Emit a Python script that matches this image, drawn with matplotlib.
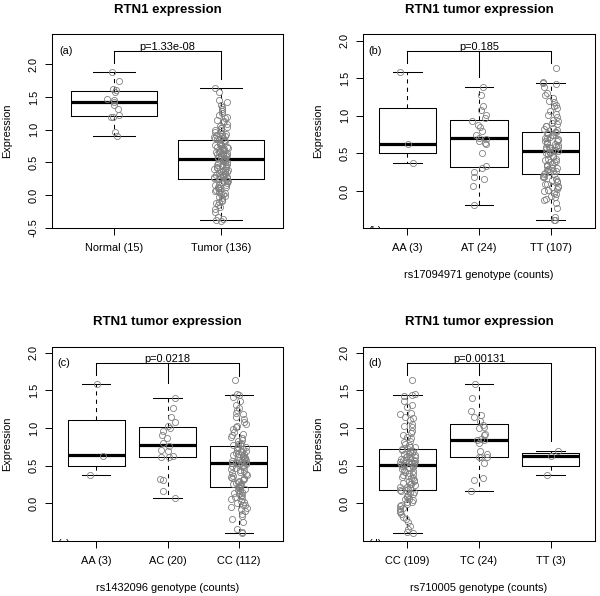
import matplotlib
matplotlib.use("Agg")
import matplotlib.pyplot as plt
import numpy as np

plt.rcParams['font.family'] = ['Liberation Sans', 'DejaVu Sans']

# ---------------- data ----------------
# Panel (a)
a_labels = ["Normal (15)", "Tumor (136)"]
a_normal = [0.91, 0.97, 1.19, 1.20, 1.22, 1.32, 1.37, 1.43, 1.45, 1.47, 1.57, 1.60, 1.62, 1.75, 1.88]
a_tumor = [1.64, 1.58, 1.45, 1.42, 1.38, 1.35, 1.31, 1.28, 1.25, 1.22, 1.20, 1.18, 1.15, 1.13, 1.11, 1.09,
           1.06, 1.04, 1.03, 1.02, 1.00, 0.99, 0.97, 0.96, 0.94, 0.93, 0.92, 0.91, 0.90, 0.89, 0.88, 0.87,
           0.86, 0.85,
           0.84, 0.83, 0.82, 0.81, 0.80, 0.79, 0.78, 0.77, 0.76, 0.75, 0.74, 0.73, 0.72, 0.71, 0.70, 0.69,
           0.68, 0.67, 0.66, 0.66, 0.65, 0.64, 0.63, 0.62, 0.61, 0.60, 0.60, 0.59, 0.58, 0.57, 0.57, 0.56,
           0.56, 0.55,
           0.54, 0.53, 0.52, 0.51, 0.50, 0.49, 0.48, 0.47, 0.46, 0.45, 0.44, 0.43, 0.42, 0.41, 0.40, 0.39,
           0.38, 0.37, 0.36, 0.35, 0.34, 0.33, 0.32, 0.31, 0.30, 0.30, 0.29, 0.28, 0.28, 0.27, 0.26, 0.26,
           0.25, 0.25,
           0.23, 0.22, 0.21, 0.20, 0.19, 0.17, 0.16, 0.15, 0.13, 0.12, 0.11, 0.10, 0.08, 0.07, 0.06, 0.05,
           0.03, 0.02, 0.01, -0.01, -0.03, -0.05, -0.07, -0.09, -0.10, -0.12, -0.15, -0.18, -0.22, -0.26,
           -0.33, -0.36, -0.38, -0.40]
a_stats = [(1.21, 1.43, 1.587, 0.91, 1.88), (0.245, 0.55, 0.847, -0.39, 1.64)]

# Panel (b)
b_labels = ["AA (3)", "AT (24)", "TT (107)"]
b_AA = [0.37, 0.63, 1.58]
b_AT = [-0.18, 0.07, 0.16, 0.19, 0.25, 0.31, 0.33, 0.51, 0.62, 0.64, 0.66, 0.69, 0.71, 0.74, 0.80, 0.85,
        0.88, 0.93, 0.97, 1.01, 1.08, 1.13, 1.28, 1.39]
b_TT = [1.64, 1.45, 1.44, 1.42, 1.38, 1.30, 1.28, 1.24, 1.20, 1.19, 1.15, 1.13, 1.10, 1.06, 1.03, 1.01,
        0.99, 0.95, 0.93, 0.91, 0.89, 0.87, 0.86, 0.84, 0.82, 0.81, 0.79,
        0.78, 0.77, 0.76, 0.75, 0.74, 0.72, 0.71, 0.70, 0.69, 0.68, 0.67, 0.66, 0.65, 0.64, 0.63, 0.62,
        0.61, 0.60, 0.59, 0.58, 0.58, 0.57, 0.56, 0.55, 0.55, 0.54, 0.53,
        0.52, 0.51, 0.50, 0.49, 0.47, 0.46, 0.45, 0.43, 0.42, 0.41, 0.40, 0.39, 0.38, 0.36, 0.35, 0.34,
        0.33, 0.31, 0.30, 0.29, 0.28, 0.27, 0.26, 0.25, 0.24, 0.23,
        0.22, 0.20, 0.19, 0.18, 0.16, 0.15, 0.13, 0.12, 0.10, 0.09, 0.07, 0.06, 0.05, 0.03, 0.02, 0.00,
        -0.02, -0.04, -0.06, -0.08, -0.10, -0.12, -0.16, -0.23, -0.34, -0.38, -0.39]
b_stats = [(0.50, 0.63, 1.105, 0.37, 1.58), (0.32, 0.70, 0.95, -0.18, 1.39), (0.226, 0.53, 0.78, -0.39, 1.44)]

# Panel (c)
c_labels = ["AA (3)", "AC (20)", "CC (112)"]
c_AA = [0.37, 0.63, 1.58]
c_AC = [0.07, 0.16, 0.31, 0.32, 0.61, 0.62, 0.63, 0.69, 0.71, 0.76, 0.80, 0.86, 0.90, 0.96, 1.00, 1.03,
        1.08, 1.14, 1.27, 1.40]
c_CC = [1.64, 1.45, 1.44, 1.41, 1.36, 1.31, 1.27, 1.24, 1.20, 1.18, 1.14, 1.12, 1.08, 1.05, 1.03, 1.01,
        0.98, 0.95, 0.92, 0.90, 0.88, 0.86, 0.84, 0.82, 0.80, 0.79, 0.78, 0.77,
        0.75, 0.74, 0.73, 0.72, 0.71, 0.70, 0.69, 0.68, 0.67, 0.66, 0.65, 0.64, 0.63, 0.62, 0.61, 0.60,
        0.60, 0.59, 0.58, 0.57, 0.57, 0.56, 0.55, 0.55, 0.54, 0.54, 0.53, 0.53,
        0.52, 0.51, 0.50, 0.49, 0.48, 0.47, 0.45, 0.44, 0.43, 0.41, 0.40, 0.39, 0.38, 0.36, 0.35, 0.34,
        0.33, 0.32, 0.31, 0.30, 0.28, 0.27, 0.26, 0.25, 0.24, 0.23, 0.22, 0.21,
        0.20, 0.19, 0.18, 0.16, 0.15, 0.14, 0.12, 0.11, 0.09, 0.08, 0.06, 0.05, 0.03, 0.02, 0.00, -0.02,
        -0.03, -0.05, -0.06, -0.08, -0.11, -0.14, -0.17, -0.21, -0.25, -0.34, -0.38, -0.40]
c_stats = [(0.50, 0.635, 1.10, 0.37, 1.58), (0.618, 0.778, 1.013, 0.065, 1.40), (0.209, 0.529, 0.756, -0.40, 1.444)]

# Panel (d)
d_labels = ["CC (109)", "TC (24)", "TT (3)"]
d_CC = [1.64, 1.45, 1.44, 1.42, 1.36, 1.30, 1.28, 1.20, 1.19, 1.15, 1.13, 1.10, 1.05, 1.03, 1.01, 0.96,
        0.93, 0.91, 0.88, 0.86, 0.83, 0.81, 0.79, 0.77, 0.75, 0.74, 0.73,
        0.72, 0.71, 0.70, 0.69, 0.68, 0.67, 0.66, 0.65, 0.64, 0.63, 0.62, 0.61, 0.60, 0.59, 0.58, 0.57,
        0.57, 0.56, 0.55, 0.55, 0.54, 0.54, 0.53, 0.53, 0.52, 0.52, 0.51,
        0.50, 0.49, 0.48, 0.47, 0.45, 0.44, 0.43, 0.42, 0.40, 0.39, 0.38, 0.36, 0.35, 0.34, 0.33, 0.31,
        0.30, 0.29, 0.27, 0.26, 0.25, 0.24, 0.22, 0.21, 0.20, 0.19, 0.18, 0.17,
        0.16, 0.15, 0.13, 0.12, 0.11, 0.09, 0.08, 0.06, 0.05, 0.04, 0.02, 0.01, -0.01, -0.03, -0.04, -0.06,
        -0.08, -0.10, -0.12, -0.15, -0.18, -0.21, -0.25, -0.30, -0.35, -0.38, -0.40]
d_TC = [0.156, 0.31, 0.33, 0.54, 0.61, 0.62, 0.62, 0.66, 0.70, 0.80, 0.84, 0.84, 0.85, 0.90, 0.92, 1.00,
        1.01, 1.04, 1.09, 1.14, 1.17, 1.22, 1.40, 1.58]
d_TT = [0.37, 0.63, 0.70]
d_stats = [(0.169, 0.511, 0.724, -0.40, 1.444), (0.618, 0.84, 1.053, 0.156, 1.58), (0.50, 0.63, 0.665, 0.37, 0.70)]

titles = ["RTN1 expression", "RTN1 tumor expression", "RTN1 tumor expression", "RTN1 tumor expression"]
xlabels = [None, "rs17094971 genotype (counts)", "rs1432096 genotype (counts)", "rs710005 genotype (counts)"]
pvals = ["p=1.33e-08", "p=0.185", "p=0.0218", "p=0.00131"]
tags = ["(a)", "(b)", "(c)", "(d)"]
bracket_y = [2.20, 1.86, 1.857, 1.857]
bracket_ends = [[2.02, 1.77], [1.70, 1.52, 1.70], [1.70, 1.60, 1.69], [1.707, 1.707, 0.82]]
ylims = [(-0.505, 2.464), (-0.492, 2.089), (-0.503, 2.076), (-0.503, 2.076)]

# ---------------- layout ----------------
W, H = 600, 596
fig = plt.figure(figsize=(6.0, 5.96), dpi=100)
FS = 7.9
TFS = 9.5


def rect(l, t, r, b):
    return [l / W, 1 - b / H, (r - l) / W, (b - t) / H]


boxes_px = [(52, 34, 283, 228), (363, 34, 595, 228), (52, 347, 283, 541), (363, 347, 595, 541)]
panels = [
    (a_labels, [a_normal, a_tumor], a_stats, 0.065),
    (b_labels, [b_AA, b_AT, b_TT], b_stats, 0.11),
    (c_labels, [c_AA, c_AC, c_CC], c_stats, 0.11),
    (d_labels, [d_CC, d_TC, d_TT], d_stats, 0.11),
]


def scramble(idx, seed):
    # deterministic horizontal jitter pattern (position only)
    v = np.sin(idx * 12.9898 + seed * 78.233) * 43758.5453
    return (v - np.floor(v)) * 2 - 1


for k, (labels, groups, stats, jit) in enumerate(panels):
    ax = fig.add_axes(rect(*boxes_px[k]))
    n = len(labels)
    pos = np.arange(1, n + 1)
    bst = []
    for i in range(n):
        q1, med, q3, lo, hi = stats[i]
        bst.append(dict(q1=q1, med=med, q3=q3, whislo=lo, whishi=hi, fliers=[], label=labels[i]))
    ax.bxp(bst, positions=pos, widths=0.8, showfliers=False,
           boxprops=dict(color='black', lw=0.75),
           medianprops=dict(color='black', lw=2.3, solid_capstyle='butt'),
           whiskerprops=dict(color='black', lw=0.75, linestyle=(0, (4, 4))),
           capprops=dict(color='black', lw=0.75))
    for i, vals in enumerate(groups):
        idx = np.arange(len(vals)) + 1.0
        off = scramble(idx, 3 * k + i + 1) * jit
        ax.plot(pos[i] + off, vals, 'o', mfc='none', mec='#808080', ms=4.4, mew=0.6, zorder=4)

    # bracket
    by = bracket_y[k]
    ax.plot([pos[0], pos[-1]], [by, by], color='black', lw=0.75)
    for i in range(n):
        ax.plot([pos[i], pos[i]], [by, bracket_ends[k][i]], color='black', lw=0.75)
    ax.annotate(pvals[k], xy=((pos[0] + pos[-1]) / 2, by), xytext=(0, 0.8), textcoords='offset points',
                ha='center', va='baseline', fontsize=FS)
    ax.text(0.55, by, tags[k], ha='center', va='center', fontsize=FS)
    if k > 0:
        ax.text(0.55, ylims[k][0] - 0.038, tags[k], ha='center', va='center', fontsize=FS, clip_on=True)

    ax.set_xlim(0.5 - 0.04 * n, n + 0.5 + 0.04 * n)
    ax.set_ylim(*ylims[k])
    ax.set_xticks(pos)
    ax.set_xticklabels(labels)
    yt = [-0.5, 0.0, 0.5, 1.0, 1.5, 2.0] if k == 0 else [0.0, 0.5, 1.0, 1.5, 2.0]
    ax.set_yticks(yt)
    ax.set_yticklabels(["%.1f" % v for v in yt], rotation=90, va='center')
    ax.tick_params(direction='out', length=5, width=0.7, labelsize=FS, pad=4.5)
    ax.tick_params(axis='x', pad=5.5)
    for s in ax.spines.values():
        s.set_linewidth(0.75)

    l, t, r, b = boxes_px[k]
    cx = (l + r) / 2
    fig.text(cx / W, 1 - (t - 24.5) / H, titles[k], ha='center', va='center', fontsize=TFS, fontweight='bold')
    fig.text((l - 45) / W, 1 - ((t + b) / 2) / H, "Expression", rotation=90, ha='center', va='center', fontsize=FS)
    if xlabels[k]:
        fig.text(cx / W, 1 - (b + 47) / H, xlabels[k], ha='center', va='center', fontsize=FS)

fig.savefig("out.png", dpi=100)
